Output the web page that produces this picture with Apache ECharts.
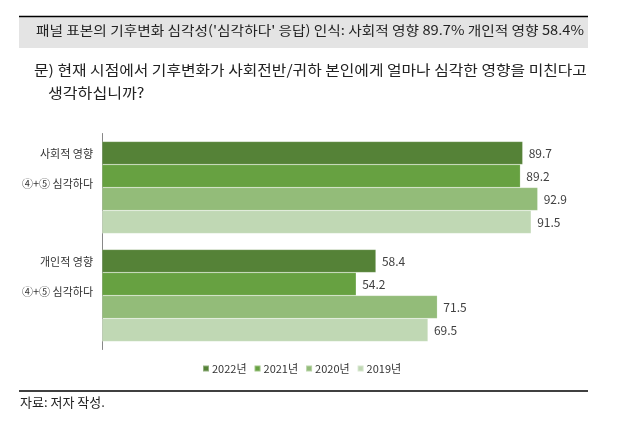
<!DOCTYPE html>
<html><head><meta charset="utf-8">
<script src="https://cdn.jsdelivr.net/npm/echarts@6/dist/echarts.min.js"></script>
<style>html,body{margin:0;padding:0;background:#fff}#c{width:640px;height:421px}</style>
</head><body><div id="c"></div>
<script>
const categories = ['사회적 영향', '개인적 영향'];
const subLabel = '④+⑤ 심각하다';
const seriesNames = ['2022년', '2021년', '2020년', '2019년'];
const v2022 = [89.7, 58.4];
const v2021 = [89.2, 54.2];
const v2020 = [92.9, 71.5];
const v2019 = [91.5, 69.5];
const colors = ['#558237', '#67a141', '#93bc79', '#c0d8b4'];
const FONT = '"Noto Sans CJK KR", sans-serif';
const chart = echarts.init(document.getElementById('c'), null, {renderer: 'canvas'});
const vals = [v2022, v2021, v2020, v2019];
chart.setOption({
  animation: false,
  textStyle: {fontFamily: FONT},
  grid: {left: 102, top: 133.5, height: 216, right: 69, containLabel: false},
  xAxis: {type: 'value', min: 0, max: 100, show: false, splitLine: {show: false}},
  yAxis: {
    type: 'category', data: categories, inverse: true,
    axisLine: {show: true, lineStyle: {color: '#888', width: 1}},
    axisTick: {show: false},
    axisLabel: {
      margin: 9, align: 'right',
      formatter: v => '{a|' + v + '}\n{a| }\n{a|' + subLabel + '}\n{b| }',
      rich: {
        a: {fontSize: 11, color: '#333', fontFamily: FONT, lineHeight: 15, align: 'right'},
        b: {fontSize: 11, lineHeight: 37}
      }
    }
  },
  legend: {
    data: seriesNames, bottom: 42, left: 197, itemWidth: 6, itemHeight: 6, itemGap: 7,
    icon: 'rect', textStyle: {fontSize: 11, color: '#333', fontFamily: FONT, padding: [0, 0, 0, -2]}
  },
  series: seriesNames.map((n, i) => ({
    name: n, type: 'bar', data: vals[i], barWidth: 23, barGap: '0%',
    itemStyle: {color: colors[i], borderColor: 'rgba(255,255,255,0.35)', borderWidth: 0.5},
    label: {show: true, position: 'right', distance: 6, fontSize: 12, color: '#404040', fontFamily: FONT}
  })),
  graphic: [
    {type: 'rect', shape: {x: 19, y: 16, width: 569, height: 32}, style: {fill: '#e4e4e4'}, z: -1},
    {type: 'line', shape: {x1: 19, y1: 16.5, x2: 588, y2: 16.5}, style: {stroke: '#000', lineWidth: 1.5}},
    {type: 'text', x: 36, y: 24, scaleX: 1.13, style: {text: "패널 표본의 기후변화 심각성('심각하다' 응답) 인식: 사회적 영향 89.7% 개인적 영향 58.4%", font: '13px ' + FONT, fill: '#222'}},
    {type: 'text', x: 34, y: 63, scaleX: 1.13, style: {text: '문) 현재 시점에서 기후변화가 사회전반/귀하 본인에게 얼마나 심각한 영향을 미친다고', font: '14px ' + FONT, fill: '#222'}},
    {type: 'text', x: 48, y: 86, scaleX: 1.15, style: {text: '생각하십니까?', font: '14px ' + FONT, fill: '#222'}},
    {type: 'line', shape: {x1: 19, y1: 391, x2: 588, y2: 391}, style: {stroke: '#000', lineWidth: 1.5}},
    {type: 'text', x: 20, y: 396, style: {text: '자료: 저자 작성.', font: '13px ' + FONT, fill: '#222'}}
  ]
});
</script></body></html>
